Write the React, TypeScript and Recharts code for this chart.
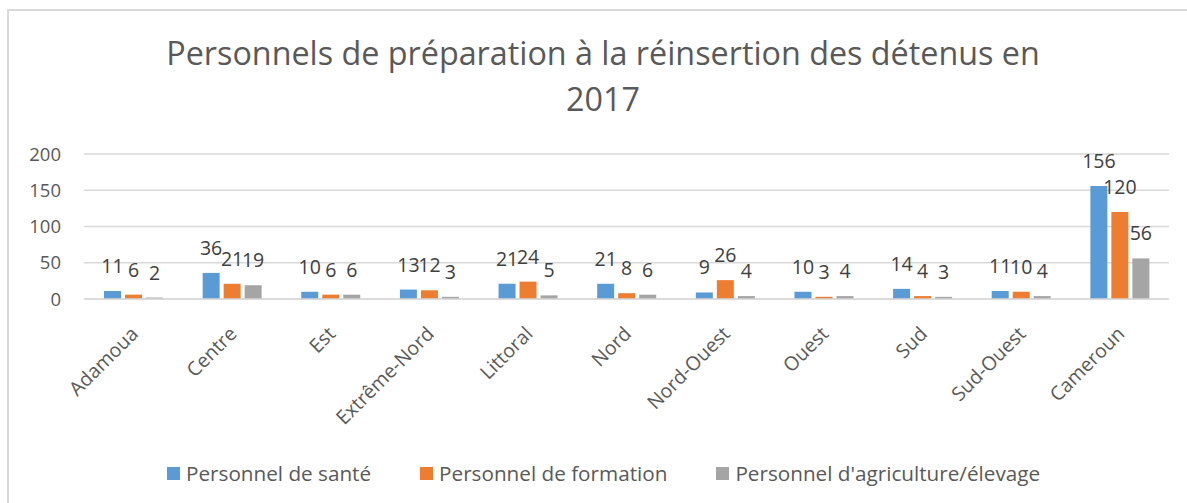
import React from 'react';
import { BarChart, Bar, XAxis, YAxis, CartesianGrid, Legend, LabelList } from 'recharts';

const categories = ['Adamoua', 'Centre', 'Est', 'Extrême-Nord', 'Littoral', 'Nord', 'Nord-Ouest', 'Ouest', 'Sud', 'Sud-Ouest', 'Cameroun'];
const sante = [11, 36, 10, 13, 21, 21, 9, 10, 14, 11, 156];
const formation = [6, 21, 6, 12, 24, 8, 26, 3, 4, 10, 120];
const agriculture = [2, 19, 6, 3, 5, 6, 4, 4, 3, 4, 56];
const yTicks = [0, 50, 100, 150, 200];
const seriesNames = ['Personnel de santé', 'Personnel de formation', "Personnel d'agriculture/élevage"];
const colors = ['#5B9BD5', '#ED7D31', '#A5A5A5'];
const titleLines = ['Personnels de préparation à la réinsertion des détenus en', '2017'];

const data = categories.map((c, i) => ({
  name: c,
  sante: sante[i],
  formation: formation[i],
  agriculture: agriculture[i],
}));

const FONT = '"Open Sans", sans-serif';
const TEXT = '#595959';

const XTick = (props: any) => {
  const { x, y, payload } = props;
  return (
    <g transform={`translate(${x + 6},${y + 36})`}>
      <text x={0} y={0} transform="rotate(-45)" textAnchor="end" fill={TEXT} fontSize={19.5} fontFamily={FONT}>
        {payload.value}
      </text>
    </g>
  );
};

const LegendContent = (props: any) => {
  const payload = [...(props.payload || [])].sort(
    (a: any, b: any) => seriesNames.indexOf(a.value) - seriesNames.indexOf(b.value)
  );
  return (
    <div style={{ display: 'flex', alignItems: 'center', height: 30, paddingLeft: 167, fontFamily: FONT, fontSize: 20.7, color: TEXT }}>
      {payload.map((p: any, i: number) => (
        <div key={i} style={{ display: 'flex', alignItems: 'center', marginRight: 49 }}>
          <div style={{ width: 13, height: 13, background: p.color, marginRight: 6 }} />
          <span>{p.value}</span>
        </div>
      ))}
    </div>
  );
};

export default function App() {
  return (
    <div style={{ position: 'absolute', left: 0, top: 0, width: 1187, height: 503, background: '#fff', overflow: 'hidden' }}>
      <div style={{ position: 'absolute', left: 7, top: 9, width: 1180, height: 494, borderLeft: '2px solid #d9d9d9', borderTop: '2px solid #d9d9d9', boxSizing: 'border-box' }} />
      <div style={{ position: 'absolute', left: 0, top: 29, width: 1206, textAlign: 'center', fontFamily: FONT, fontSize: 32.3, lineHeight: '46px', color: TEXT }}>
        {titleLines.map((t, i) => (<div key={i}>{t}</div>))}
      </div>
      <div style={{ position: 'absolute', left: 0, top: 0 }}>
        <BarChart
          width={1187}
          height={503}
          data={data}
          margin={{ top: 154, right: 18, left: 24, bottom: 54 }}
          barSize={17}
          barGap={4}
        >
          <CartesianGrid vertical={false} stroke="#d9d9d9" strokeWidth={1.5} />
          <XAxis
            dataKey="name"
            interval={0}
            height={120}
            tickLine={false}
            axisLine={{ stroke: '#d9d9d9', strokeWidth: 1.5 }}
            tickSize={0}
            tickMargin={0}
            tick={<XTick />}
          />
          <YAxis
            width={60}
            domain={[0, 200]}
            ticks={yTicks}
            axisLine={false}
            tickLine={false}
            tickSize={0}
            tickMargin={23}
            tick={{ fill: TEXT, fontSize: 18.5, fontFamily: FONT }}
          />
          <Legend
            verticalAlign="bottom"
            content={<LegendContent />}
            wrapperStyle={{ position: 'absolute', top: 458, left: 0, width: 1187, bottom: 'auto' }}
          />
          <Bar dataKey="sante" name={seriesNames[0]} fill={colors[0]} isAnimationActive={false}>
            <LabelList dataKey="sante" position="top" offset={18} fill="#404040" fontSize={19.5} fontFamily={FONT} />
          </Bar>
          <Bar dataKey="formation" name={seriesNames[1]} fill={colors[1]} isAnimationActive={false}>
            <LabelList dataKey="formation" position="top" offset={18} fill="#404040" fontSize={19.5} fontFamily={FONT} />
          </Bar>
          <Bar dataKey="agriculture" name={seriesNames[2]} fill={colors[2]} isAnimationActive={false}>
            <LabelList dataKey="agriculture" position="top" offset={18} fill="#404040" fontSize={19.5} fontFamily={FONT} />
          </Bar>
        </BarChart>
      </div>
    </div>
  );
}
